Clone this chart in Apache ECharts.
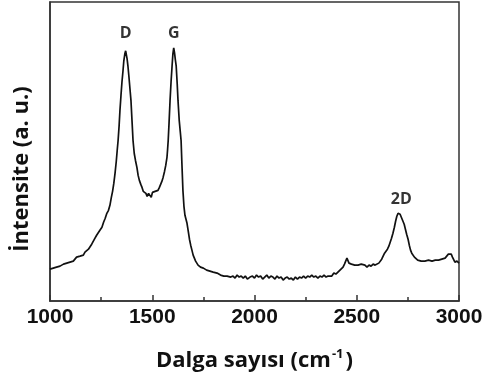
<!DOCTYPE html>
<html>
<head>
<meta charset="utf-8">
<script src="https://cdn.jsdelivr.net/npm/echarts@6/dist/echarts.min.js"></script>
<style>
  html, body { margin: 0; padding: 0; background: #fff; }
  #chart { width: 489px; height: 374px; }
</style>
</head>
<body>
<div id="chart"></div>
<script>
// Raman spectrum (wave number cm-1, intensity a.u.)
var waveNumbers = [
  1000,1008,1016,1024,1032,1040,1049,1058,1066,1074,1082,1090,1098,1106,1114,1122,1130,1138,1147,1155,
  1163,1171,1180,1188,1196,1204,1212,1220,1228,1236,1244,1254,1262,1270,1278,1286,1293,1300,1306,1312,
  1318,1324,1329,1333,1338,1342,1347,1352,1357,1361,1366,1370,1373,1377,1381,1386,1391,1396,1401,1406,
  1412,1418,1425,1431,1437,1444,1450,1456,1462,1469,1475,1482,1489,1495,1501,1508,1514,1521,1528,1535,
  1541,1547,1553,1560,1566,1572,1575,1578,1582,1587,1592,1597,1601,1605,1609,1613,1617,1622,1626,1632,
  1637,1641,1645,1650,1655,1660,1665,1670,1676,1682,1688,1694,1700,1706,1712,1718,1724,1730,1736,1742,
  1750,1758,1766,1774,1782,1790,1798,1806,1817,1826,1834,1842,1850,1858,1866,1875,1884,1895,1905,1915,
  1925,1935,1945,1955,1965,1978,1990,2000,2010,2020,2030,2040,2050,2060,2070,2080,2090,2100,2110,2120,
  2130,2140,2150,2160,2170,2180,2190,2200,2210,2220,2230,2240,2250,2260,2270,2280,2290,2300,2310,2320,
  2330,2340,2350,2360,2369,2378,2388,2398,2408,2418,2426,2433,2440,2446,2452,2457,2462,2467,2474,2482,
  2490,2498,2506,2514,2522,2530,2540,2550,2560,2570,2580,2590,2599,2608,2616,2622,2628,2636,2643,2650,
  2657,2663,2670,2677,2684,2690,2696,2702,2707,2712,2718,2726,2732,2738,2744,2751,2757,2763,2769,2775,
  2782,2790,2798,2806,2815,2824,2833,2842,2851,2860,2868,2876,2884,2892,2900,2908,2916,2924,2932,2940,
  2948,2955,2962,2968,2974,2980,2990,3000
];
var intensity = [
  32,30,33,32,34,33,35,34,37,36,38,37,39,41,40,42,44,43,45,47,
  46,49,50,52,54,57,59,63,66,68,71,74,79,83,88,91,96,104,110,118,
  128,140,152,161,176,191,206,220,231,241,248,251,249,243,236,225,213,201,181,161,
  148,141,134,126,121,117,114,110,112,108,105,108,106,104,109,107,110,109,111,114,
  116,120,124,130,136,144,152,161,178,201,220,236,248,254,249,242,236,218,201,181,
  170,161,138,111,95,86,82,78,70,62,56,51,46,43,40,38,36,37,34,35,
  33,34,31,32,30,31,29,30,28,29,26,28,25,27,25,26,24,25,23,26,
  24,25,23,25,22,24,25,23,26,24,25,22,24,26,23,25,24,22,25,23,
  24,21,23,24,22,23,21,24,22,24,23,25,23,25,24,26,24,25,23,25,
  24,26,24,25,27,25,28,27,29,31,31,34,37,40,43,42,38,36,37,35,
  36,34,36,35,37,35,36,34,36,35,37,36,37,38,40,42,44,48,50,52,
  55,57,63,68,74,80,85,88,86,87,84,82,77,72,67,62,56,51,48,46,
  44,43,41,43,40,42,40,42,41,43,40,42,41,43,41,43,42,44,43,45,
  47,45,47,44,42,39,40,38
];
var peakNames = ['D', 'G', '2D'];
var peakX = [1370, 1605, 2718];
var peakY = [268, 268, 102];
var xTicks = [1000, 1500, 2000, 2500, 3000];

var spectrum = waveNumbers.map(function (w, i) { return [w, intensity[i]]; });
var peaks = peakNames.map(function (n, i) { return { name: n, value: [peakX[i], peakY[i]] }; });

var chart = echarts.init(document.getElementById('chart'), null, { renderer: 'canvas' });
var option = {
  backgroundColor: '#fff',
  animation: false,
  grid: {
    left: 50, right: 30, top: 2, bottom: 73,
    containLabel: false,
    outerBoundsMode: 'none',
    show: true, borderColor: '#333', borderWidth: 1.5
  },
  xAxis: {
    type: 'value',
    min: xTicks[0],
    max: xTicks[xTicks.length - 1],
    interval: 500,
    axisLine: { show: true, lineStyle: { color: '#333', width: 1.5 } },
    axisTick: { show: true, inside: true, length: 6, lineStyle: { color: '#333', width: 1.5 } },
    minorTick: { show: true, splitNumber: 2, length: 4, lineStyle: { color: '#333', width: 1.5 } },
    splitLine: { show: false },
    axisLabel: {
      margin: 6,
      color: '#111',
      fontFamily: 'Liberation Sans',
      fontWeight: 'bold',
      fontSize: 21,
      formatter: function (v) { return String(v); }
    },
    name: '{a|Dalga sayısı (cm}{s|-1}{a|)}',
    nameLocation: 'middle',
    nameGap: 47,
    nameTextStyle: {
      rich: {
        a: { fontFamily: 'Open Sans', fontWeight: 'bold', fontSize: 22, color: '#111' },
        s: { fontFamily: 'Open Sans', fontWeight: 'bold', fontSize: 13, color: '#111', verticalAlign: 'top', padding: [0, 2, 12, 1] }
      }
    }
  },
  yAxis: {
    type: 'value',
    min: 0,
    max: 300,
    axisLine: { show: true, lineStyle: { color: '#333', width: 1.5 } },
    axisTick: { show: false },
    axisLabel: { show: false },
    splitLine: { show: false }
  },
  graphic: [{
    type: 'text',
    x: 22, y: 169,
    rotation: Math.PI / 2,
    style: {
      text: 'İntensite (a. u.)',
      fontFamily: 'Open Sans',
      fontWeight: 'bold',
      fontSize: 22,
      fill: '#111',
      align: 'center',
      verticalAlign: 'middle'
    }
  }],
  series: [{
    type: 'line',
    data: spectrum,
    showSymbol: false,
    lineStyle: { color: '#111', width: 1.7 },
    z: 2
  }, {
    type: 'scatter',
    data: peaks,
    symbolSize: 0,
    label: {
      show: true,
      position: 'inside',
      formatter: '{b}',
      fontFamily: 'Open Sans',
      fontWeight: 'bold',
      fontSize: 16,
      color: '#000'
    },
    z: 3
  }]
};
chart.setOption(option);
</script>
</body>
</html>
